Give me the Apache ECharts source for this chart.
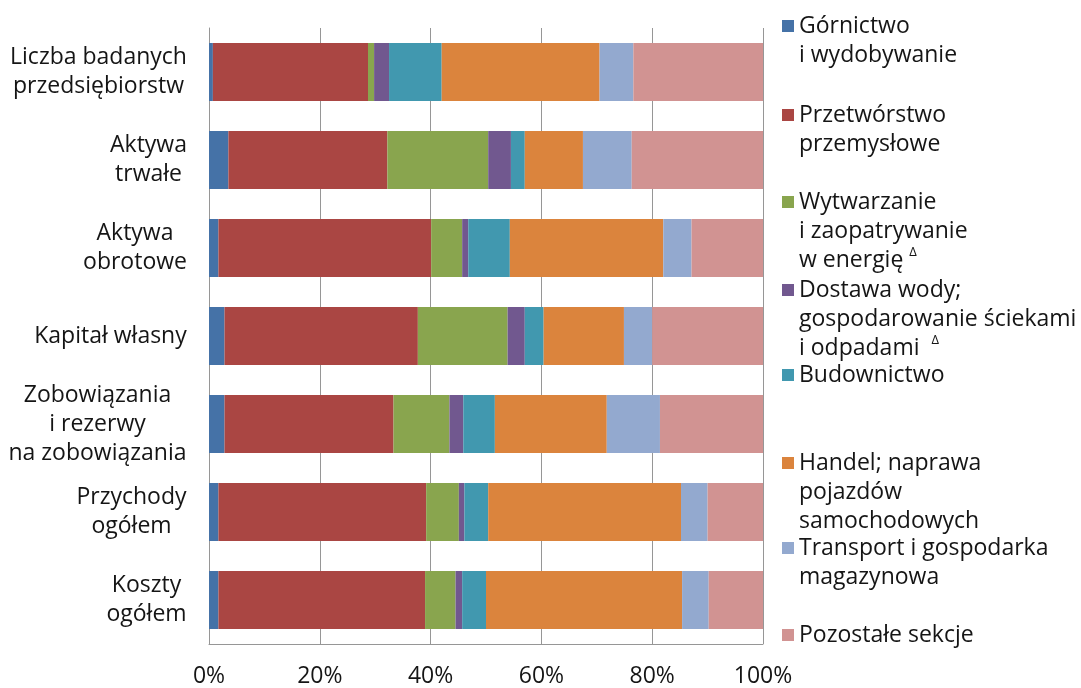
<!DOCTYPE html>
<html><head><meta charset="utf-8">
<script src="https://cdn.jsdelivr.net/npm/echarts@6/dist/echarts.min.js"></script>
<style>html,body{margin:0;padding:0;background:#fff}#c{width:1081px;height:688px}</style>
</head><body><div id="c"></div>
<script>
const categories = [
  'Liczba badanych\nprzedsiębiorstw',
  'Aktywa\ntrwałe',
  'Aktywa\nobrotowe',
  'Kapitał własny',
  'Zobowiązania\ni rezerwy\nna zobowiązania',
  'Przychody\nogółem',
  'Koszty\nogółem'
];
const seriesNames = [
  'Górnictwo i wydobywanie',
  'Przetwórstwo przemysłowe',
  'Wytwarzanie i zaopatrywanie w energię',
  'Dostawa wody; gospodarowanie ściekami i odpadami',
  'Budownictwo',
  'Handel; naprawa pojazdów samochodowych',
  'Transport i gospodarka magazynowa',
  'Pozostałe sekcje'
];
const legendLines = [
  ['Górnictwo', 'i wydobywanie'],
  ['Przetwórstwo', 'przemysłowe'],
  ['Wytwarzanie', 'i zaopatrywanie', 'w energię {sup|Δ}'],
  ['Dostawa wody;', 'gospodarowanie ściekami', 'i odpadami  {sup|Δ}'],
  ['Budownictwo'],
  ['Handel; naprawa', 'pojazdów', 'samochodowych'],
  ['Transport i gospodarka', 'magazynowa'],
  ['Pozostałe sekcje']
];
const gornictwo    = [0.7, 3.5, 1.7, 2.8, 2.8, 1.7, 1.7];
const przetworstwo = [28.0, 28.7, 38.4, 34.9, 30.5, 37.5, 37.3];
const energia      = [1.1, 18.2, 5.6, 16.2, 10.1, 5.9, 5.5];
const woda         = [2.7, 4.1, 1.1, 3.1, 2.5, 1.0, 1.2];
const budownictwo  = [9.5, 2.5, 7.5, 3.4, 5.7, 4.3, 4.3];
const handel       = [28.5, 10.5, 27.7, 14.5, 20.2, 34.8, 35.4];
const transport    = [6.1, 8.8, 5.1, 5.1, 9.6, 4.8, 4.8];
const pozostale    = [23.4, 23.7, 12.9, 20.0, 18.6, 10.0, 9.8];
const xTicks = [0, 20, 40, 60, 80, 100];

const seriesData = [gornictwo, przetworstwo, energia, woda, budownictwo, handel, transport, pozostale];
const colors = ['#4572A7', '#AA4643', '#89A54E', '#71588F', '#4198AF', '#DB843D', '#93A9CF', '#D19392'];

const FONT = '"Open Sans", "Noto Sans", sans-serif';
const FS = 23;
const LH = 29;
const textColor = '#151515';

// measure widths for category label centering
const cv = document.createElement('canvas').getContext('2d');
cv.font = FS + 'px "Open Sans"';
const catRich = {};
categories.forEach((c, i) => {
  const w = Math.max(...c.split('\n').map(l => cv.measureText(l).width));
  catRich['c' + i] = { width: Math.ceil(w), align: 'center', fontSize: FS, lineHeight: LH, fontFamily: FONT, color: textColor };
});

// legend layout (first-line centre y of each entry)
const legendY = [26, 115, 202, 290, 375, 463, 548, 635];
const legends = seriesNames.map((name, i) => {
  const n = legendLines[i].length;
  return {
    data: [name],
    left: 782,
    top: legendY[i] - (2 * n - 1) * LH / 2,
    orient: 'vertical',
    padding: 0,
    itemWidth: 12,
    itemHeight: 12,
    icon: 'rect',
    selectedMode: false,
    formatter: () => legendLines[i].join('\n'),
    textStyle: {
      fontFamily: FONT, fontSize: FS, lineHeight: LH, color: textColor,
      padding: [(n - 1) * LH, 0, 0, 0],
      rich: { sup: { fontSize: 13, fontFamily: FONT, color: textColor, verticalAlign: 'top', lineHeight: LH, padding: [0, 0, 8, 0] } }
    }
  };
});

const chart = echarts.init(document.getElementById('c'), null, { renderer: 'canvas' });
chart.setOption({
  animation: false,
  color: colors,
  legend: legends,
  grid: { left: 209, right: 318, top: 28, bottom: 44, containLabel: false, outerBoundsMode: 'none' },
  xAxis: {
    type: 'value', min: 0, max: 100, interval: 20,
    axisLine: { show: true, lineStyle: { color: '#969696', width: 1 } },
    axisTick: { show: false },
    splitLine: { show: true, lineStyle: { color: '#969696', width: 1 } },
    axisLabel: { formatter: v => xTicks.includes(v) ? v + '%' : '', fontFamily: FONT, fontSize: FS, color: textColor, margin: 21 }
  },
  yAxis: {
    type: 'category', data: categories, inverse: true,
    axisLine: { show: true, lineStyle: { color: '#969696', width: 1 } },
    axisTick: { show: false },
    axisLabel: {
      margin: 22, align: 'right',
      formatter: (v, i) => v.split('\n').map(l => '{c' + i + '|' + l + '}').join('\n'),
      rich: catRich, fontFamily: FONT, fontSize: FS, lineHeight: LH, color: textColor
    }
  },
  series: seriesNames.map((name, i) => ({
    name, type: 'bar', stack: 'total', data: seriesData[i],
    barWidth: 58,
    itemStyle: { color: colors[i] }
  }))
});
</script></body></html>
